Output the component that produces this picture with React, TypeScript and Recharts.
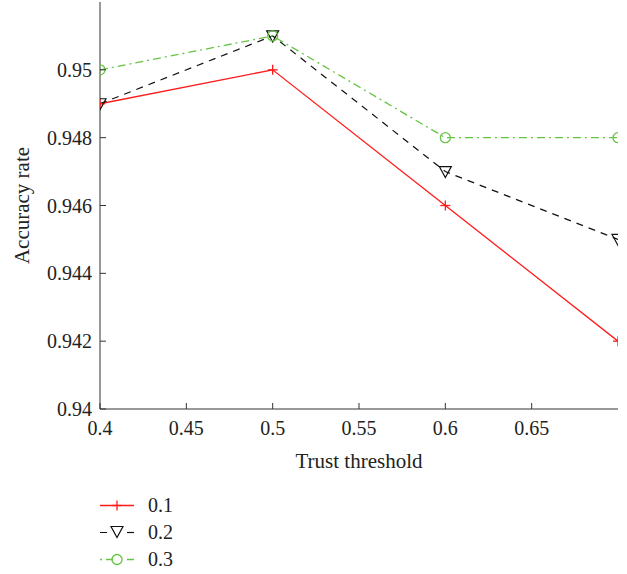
import React from 'react';
import { Legend, Line, LineChart, XAxis, YAxis } from 'recharts';

const thresholds = [0.4, 0.5, 0.6, 0.7];
const rate01 = [0.949, 0.95, 0.946, 0.942];
const rate02 = [0.949, 0.951, 0.947, 0.945];
const rate03 = [0.95, 0.951, 0.948, 0.948];
const xTicks = [0.4, 0.45, 0.5, 0.55, 0.6, 0.65];
const yTicks = [0.94, 0.942, 0.944, 0.946, 0.948, 0.95];
const seriesNames = ['0.1', '0.2', '0.3'];

const data = thresholds.map((t, i) => ({
  t,
  s1: rate01[i],
  s2: rate02[i],
  s3: rate03[i],
}));

const FONT = "'Liberation Serif', 'DejaVu Serif', serif";
const AXIS = '#333';
const RED = '#ff1a1a';
const GREEN = '#66c444';

const fmt = (v: number) => String(Number(v.toFixed(3)));

const PlusDot = (p: any) => (
  <g key={'p' + p.index}>
    <line x1={p.cx - 5} x2={p.cx + 5} y1={p.cy} y2={p.cy} stroke={RED} strokeWidth={1.3} />
    <line x1={p.cx} x2={p.cx} y1={p.cy - 5} y2={p.cy + 5} stroke={RED} strokeWidth={1.3} />
  </g>
);

const TriDot = (p: any) => (
  <polygon
    key={'t' + p.index}
    points={`${p.cx - 6},${p.cy - 5} ${p.cx + 6},${p.cy - 5} ${p.cx},${p.cy + 6}`}
    fill='none'
    stroke='#111'
    strokeWidth={1.2}
  />
);

const CircleDot = (p: any) => (
  <circle key={'c' + p.index} cx={p.cx} cy={p.cy} r={5} fill='none' stroke={GREEN} strokeWidth={1.3} />
);

const BottomTick = (p: any) => (
  <g>
    <line x1={p.x} x2={p.x} y1={p.y} y2={p.y - 6} stroke={AXIS} />
    <text x={p.x} y={p.y + 19} textAnchor='middle' dominantBaseline='central' fontFamily={FONT} fontSize={20} fill='#222'>
      {fmt(p.payload.value)}
    </text>
  </g>
);

const LeftTick = (p: any) => (
  <g>
    <line x1={p.x} x2={p.x + 6} y1={p.y} y2={p.y} stroke={AXIS} />
    <text x={p.x - 8} y={p.y} textAnchor='end' dominantBaseline='central' fontFamily={FONT} fontSize={20} fill='#222'>
      {fmt(p.payload.value)}
    </text>
  </g>
);

const TopTick = (p: any) => <line x1={p.x} x2={p.x} y1={p.y} y2={p.y + 6} stroke={AXIS} />;
const RightTick = (p: any) => <line x1={p.x} x2={p.x - 6} y1={p.y} y2={p.y} stroke={AXIS} />;

function LegendSample({ i }: { i: number }) {
  const y = 13.5;
  if (i === 0) {
    return (
      <svg width={48} height={27}>
        <line x1={0} x2={34} y1={y} y2={y} stroke={RED} strokeWidth={1.3} />
        <PlusDot cx={17} cy={y} index={0} />
      </svg>
    );
  }
  if (i === 1) {
    return (
      <svg width={48} height={27}>
        <line x1={0} x2={34} y1={y} y2={y} stroke='#111' strokeWidth={1.2} strokeDasharray='7 20' />
        <line x1={27} x2={34} y1={y} y2={y} stroke='#111' strokeWidth={1.2} />
        <TriDot cx={17} cy={y - 1} index={0} />
      </svg>
    );
  }
  return (
    <svg width={48} height={27}>
      <line x1={0} x2={2} y1={y} y2={y} stroke={GREEN} strokeWidth={1.3} />
      <line x1={6} x2={34} y1={y} y2={y} stroke={GREEN} strokeWidth={1.3} strokeDasharray='7 14 7' />
      <CircleDot cx={17} cy={y} index={0} />
    </svg>
  );
}

function LegendBox() {
  return (
    <div style={{ paddingTop: 14, height: 82, paddingLeft: 100, fontFamily: FONT, fontSize: 20, color: '#222' }}>
      {seriesNames.map((n, i) => (
        <div key={n} style={{ display: 'flex', alignItems: 'center', height: 27 }}>
          <LegendSample i={i} />
          <span>{n}</span>
        </div>
      ))}
    </div>
  );
}

export default function App() {
  return (
    <div style={{ position: 'absolute', left: 0, top: 0, background: '#fff' }}>
      <LineChart width={627} height={574} data={data} margin={{ top: 2, right: 9, left: 0, bottom: 0 }}>
        <XAxis
          dataKey='t'
          type='number'
          domain={[0.4, 0.7]}
          ticks={xTicks}
          allowDataOverflow
          height={69}
          stroke={AXIS}
          tickLine={false}
          tickSize={0}
          tickMargin={0}
          tick={BottomTick}
          label={{ value: 'Trust threshold', position: 'insideBottom', offset: 10, fontFamily: FONT, fontSize: 21, fill: '#222' }}
        />
        <XAxis
          xAxisId='top'
          orientation='top'
          type='number'
          domain={[0.4, 0.7]}
          ticks={xTicks}
          allowDataOverflow
          height={0}
          stroke={AXIS}
          tickLine={false}
          tickSize={0}
          tickMargin={0}
          tick={TopTick}
        />
        <YAxis
          type='number'
          domain={[0.94, 0.952]}
          ticks={yTicks}
          allowDataOverflow
          width={100}
          stroke={AXIS}
          tickLine={false}
          tickSize={0}
          tickMargin={0}
          tick={LeftTick}
          label={{ value: 'Accuracy rate', angle: -90, position: 'insideLeft', offset: 22, fontFamily: FONT, fontSize: 21, fill: '#222', style: { textAnchor: 'middle' } }}
        />
        <YAxis
          yAxisId='right'
          orientation='right'
          type='number'
          domain={[0.94, 0.952]}
          ticks={yTicks}
          allowDataOverflow
          width={0}
          stroke={AXIS}
          tickLine={false}
          tickSize={0}
          tickMargin={0}
          tick={RightTick}
        />
        <Legend layout='horizontal' verticalAlign='bottom' align='left' wrapperStyle={{ left: 0 }} content={() => <LegendBox />} />
        <Line dataKey='s1' stroke={RED} strokeWidth={1.3} dot={PlusDot} isAnimationActive={false} />
        <Line dataKey='s2' stroke='#111' strokeWidth={1.2} strokeDasharray='7 6' dot={TriDot} isAnimationActive={false} />
        <Line dataKey='s3' stroke={GREEN} strokeWidth={1.3} strokeDasharray='8 4 2 4' dot={CircleDot} isAnimationActive={false} />
      </LineChart>
    </div>
  );
}
